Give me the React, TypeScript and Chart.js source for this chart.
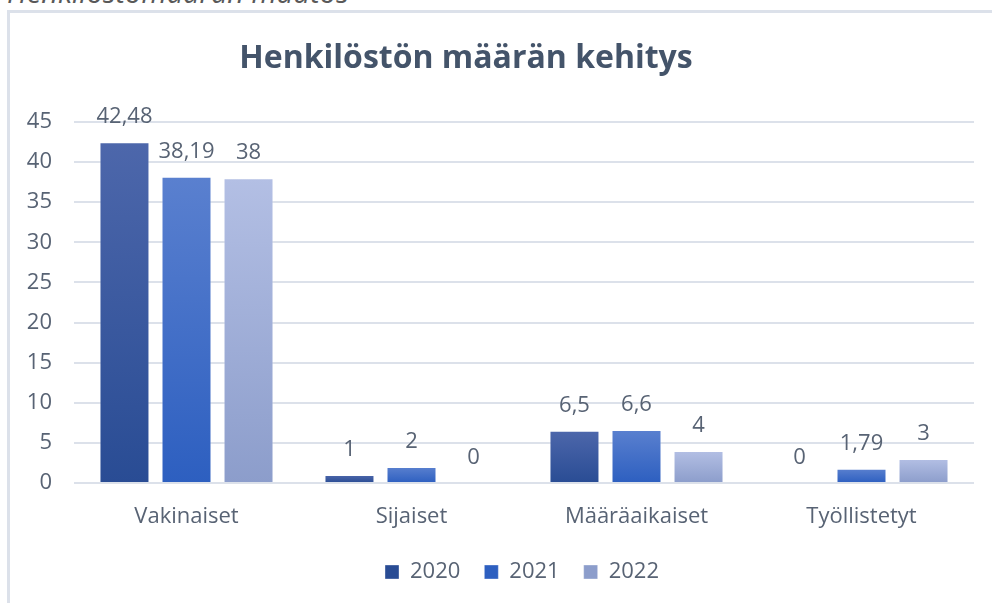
import React, { useEffect, useRef } from "react";
import { Chart, registerables } from "chart.js";

Chart.register(...registerables);

const categories = ["Vakinaiset", "Sijaiset", "Määräaikaiset", "Työllistetyt"];
const years = ["2020", "2021", "2022"];
const values2020 = [42.48, 1, 6.5, 0];
const values2021 = [38.19, 2, 6.6, 1.79];
const values2022 = [38, 0, 4, 3];
const yTicks = [0, 5, 10, 15, 20, 25, 30, 35, 40, 45];

const titleText = "Henkilöstön määrän kehitys";
const captionText = "Henkilöstömäärän muutos";

const topColors = ["#4d67ab", "#5a80cf", "#b3bfe4"];
const bottomColors = ["#294c94", "#2d5fc0", "#8c9dcb"];
const midColors = ["#3a5aa0", "#3f6cc8", "#a3b1da"];

const FONT = "'Open Sans', 'Noto Sans', sans-serif";
const TEXT = "#586374";

const fmt = (v: number) => String(v).replace(".", ",");

const gradientFor = (i: number) => (ctx: any) => {
  const chart = ctx.chart;
  if (!chart.chartArea || ctx.type !== "data") return midColors[i];
  const v = ctx.raw as number;
  const ys = chart.scales.y;
  const y0 = ys.getPixelForValue(v);
  const y1 = ys.getPixelForValue(0);
  if (y1 - y0 < 1) return bottomColors[i];
  const g = chart.ctx.createLinearGradient(0, y0, 0, y1);
  g.addColorStop(0, topColors[i]);
  g.addColorStop(1, bottomColors[i]);
  return g;
};

const valueLabels = {
  id: "valueLabels",
  afterDatasetsDraw(chart: any) {
    const c = chart.ctx;
    c.save();
    c.font = `22px ${FONT}`;
    c.fillStyle = TEXT;
    c.textAlign = "center";
    c.textBaseline = "alphabetic";
    chart.data.datasets.forEach((ds: any, di: number) => {
      const meta = chart.getDatasetMeta(di);
      meta.data.forEach((el: any, idx: number) => {
        const v = ds.data[idx] as number;
        c.fillText(fmt(v), el.x, el.y - 19);
      });
    });
    c.restore();
  },
};

const chartTitle = {
  id: "chartTitle",
  afterDraw(chart: any) {
    const c = chart.ctx;
    c.save();
    c.font = `bold 32px ${FONT}`;
    c.fillStyle = "#44546a";
    c.textAlign = "center";
    c.textBaseline = "alphabetic";
    c.fillText(titleText, 466, 68);
    c.restore();
  },
};

const legendShift = {
  id: "legendShift",
  afterLayout(chart: any) {
    const l = chart.legend;
    if (l) {
      l.left += 35;
      l.right += 35;
    }
  },
};

export default function App() {
  const ref = useRef<HTMLCanvasElement | null>(null);
  useEffect(() => {
    document.body.style.margin = "0";
    const seriesValues = [values2020, values2021, values2022];
    const chart = new Chart(ref.current as HTMLCanvasElement, {
      type: "bar",
      data: {
        labels: categories,
        datasets: years.map((y, i) => ({
          label: y,
          data: seriesValues[i],
          backgroundColor: gradientFor(i),
          borderColor: "rgba(255,255,255,0.35)",
          borderWidth: 1,
          categoryPercentage: 0.827,
          barPercentage: 0.806,
        })),
      },
      options: {
        responsive: false,
        animation: false,
        layout: { padding: { left: 0, right: 18, top: 122, bottom: 10 } },
        scales: {
          x: {
            grid: { display: false },
            border: { display: false },
            ticks: { color: TEXT, font: { family: FONT, size: 22 }, padding: 13 },
            afterFit: (s: any) => {
              s.height = 54;
            },
          },
          y: {
            min: 0,
            max: 45,
            afterBuildTicks: (s: any) => {
              s.ticks = yTicks.map((v) => ({ value: v }));
            },
            grid: { color: "#dce1ea", lineWidth: 2, drawTicks: false },
            border: { display: false },
            ticks: { color: TEXT, font: { family: FONT, size: 22 }, padding: 22 },
            afterFit: (s: any) => {
              s.width = 74;
            },
          },
        },
        plugins: {
          title: { display: false },
          legend: {
            position: "bottom",
            labels: {
              color: TEXT,
              font: { family: FONT, size: 22 },
              boxWidth: 14,
              boxHeight: 14,
              padding: 24,
            },
          },
          tooltip: { enabled: false },
        },
      },
      plugins: [valueLabels, chartTitle, legendShift],
    });
    return () => chart.destroy();
  }, []);

  return (
    <div style={{ position: "relative", width: 992, height: 603, overflow: "hidden", background: "#fff" }}>
      <div
        style={{
          position: "absolute",
          left: 7,
          top: -23,
          fontFamily: FONT,
          fontStyle: "italic",
          fontSize: 29,
          lineHeight: "29px",
          color: "#595959",
          whiteSpace: "nowrap",
        }}
      >
        {captionText}
      </div>
      <div
        style={{
          position: "absolute",
          left: 7,
          top: 10,
          width: 1100,
          height: 800,
          borderLeft: "3px solid #dce1ea",
          borderTop: "3px solid #dce1ea",
        }}
      />
      <canvas ref={ref} width={992} height={603} style={{ position: "absolute", left: 0, top: 0 }} />
    </div>
  );
}
